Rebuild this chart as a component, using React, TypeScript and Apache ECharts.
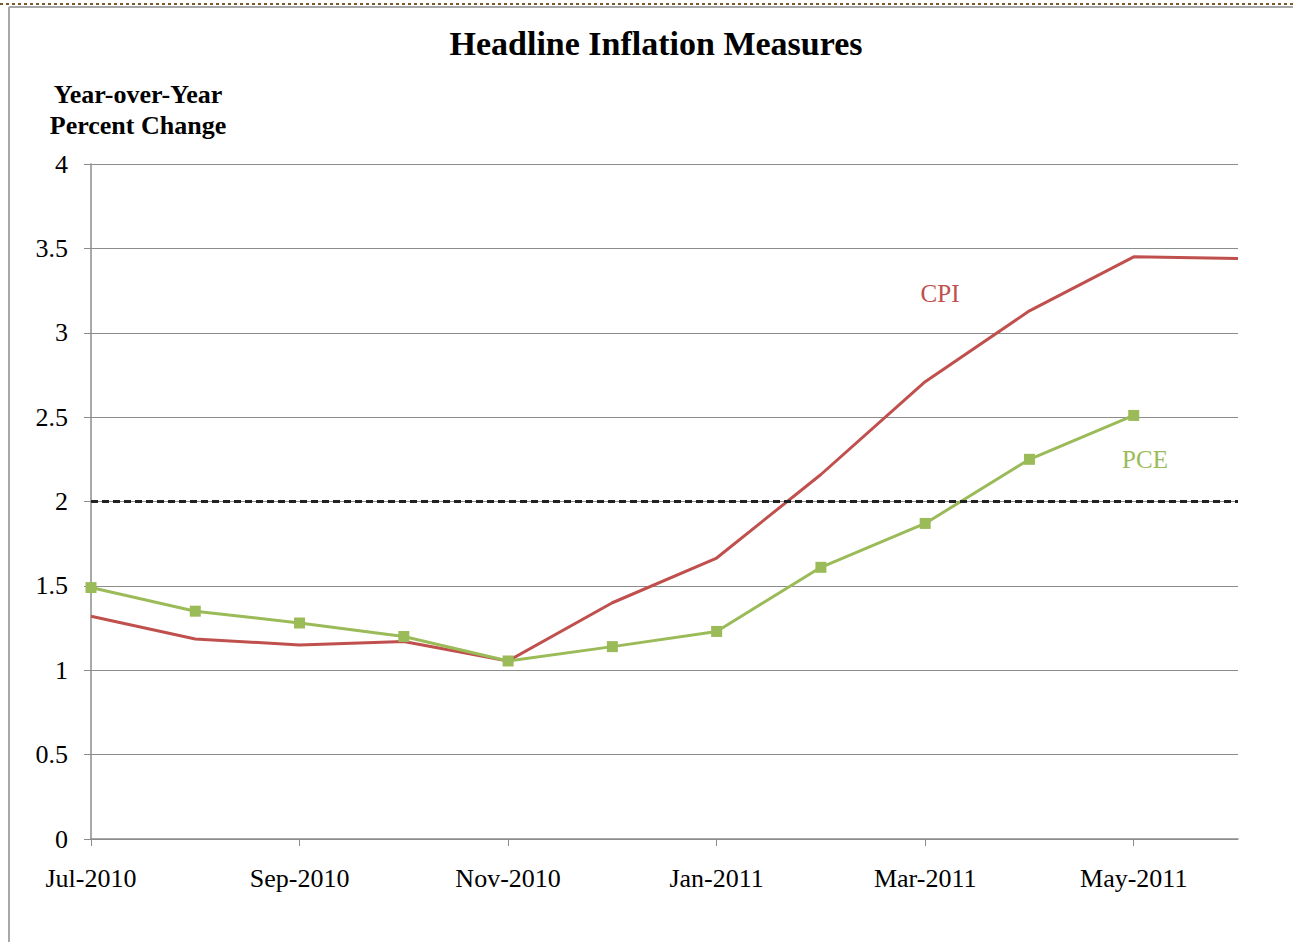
import React, { useEffect, useRef } from "react";
import * as echarts from "echarts";

const months = [
  "Jul-2010", "Aug-2010", "Sep-2010", "Oct-2010", "Nov-2010", "Dec-2010",
  "Jan-2011", "Feb-2011", "Mar-2011", "Apr-2011", "May-2011", "Jun-2011",
];
const cpi = [1.32, 1.185, 1.15, 1.17, 1.055, 1.4, 1.665, 2.16, 2.71, 3.13, 3.45, 3.44];
const pce = [1.49, 1.35, 1.28, 1.2, 1.055, 1.14, 1.23, 1.61, 1.87, 2.25, 2.51, null];
const targetLevel = 2;
const yTicks = { min: 0, max: 4, interval: 0.5 };

const FONT = "'Liberation Serif', 'Times New Roman', serif";

export default function App() {
  const ref = useRef<HTMLDivElement>(null);
  useEffect(() => {
    if (!ref.current) return;
    const chart = echarts.init(ref.current, null, { renderer: "svg" });
    chart.setOption({
      animation: false,
      backgroundColor: "#ffffff",
      textStyle: { fontFamily: FONT },
      title: [
        {
          text: "Headline Inflation Measures",
          left: 651,
          top: 21,
          textAlign: "center",
          textStyle: { fontFamily: FONT, fontSize: 34, fontWeight: "bold", color: "#000" },
        },
        {
          text: "Year-over-Year\nPercent Change",
          left: 133,
          top: 74,
          textAlign: "center",
          textStyle: { fontFamily: FONT, fontSize: 26, fontWeight: "bold", color: "#000", lineHeight: 31 },
        },
      ],
      grid: { left: 91, right: 55, top: 164, bottom: 103, containLabel: false },
      xAxis: {
        type: "category",
        data: months,
        boundaryGap: false,
        axisLine: { lineStyle: { color: "#8c8c8c", width: 1.5 } },
        axisTick: { show: true, interval: 1, length: 7, lineStyle: { color: "#8c8c8c" } },
        axisLabel: { interval: 1, margin: 26, fontFamily: FONT, fontSize: 26, color: "#000" },
        splitLine: { show: false },
      },
      yAxis: {
        type: "value",
        min: yTicks.min,
        max: yTicks.max,
        interval: yTicks.interval,
        axisLine: { show: true, lineStyle: { color: "#8c8c8c", width: 1.5 } },
        axisTick: { show: true, length: 7, lineStyle: { color: "#8c8c8c" } },
        axisLabel: { margin: 23, fontFamily: FONT, fontSize: 26, color: "#000" },
        splitLine: { show: true, lineStyle: { color: "#8c8c8c", width: 1 } },
      },
      series: [
        {
          name: "CPI",
          type: "line",
          data: cpi,
          symbol: "none",
          lineStyle: { color: "#C0504D", width: 3 },
          itemStyle: { color: "#C0504D" },
          z: 3,
          markLine: {
            silent: true,
            symbol: "none",
            label: { show: false },
            lineStyle: { color: "#222", width: 3, type: [7, 4] },
            data: [{ yAxis: targetLevel }],
          },
        },
        {
          name: "PCE",
          type: "line",
          data: pce,
          symbol: "rect",
          symbolSize: 11,
          showSymbol: true,
          lineStyle: { color: "#9BBB59", width: 3 },
          itemStyle: { color: "#9BBB59" },
          z: 4,
        },
      ],
      graphic: [
        {
          type: "line",
          shape: { x1: 0, y1: 4, x2: 1293, y2: 4 },
          style: { stroke: "#7a5a2a", lineWidth: 2, lineDash: [3, 3] },
        },
        {
          type: "line",
          shape: { x1: 9, y1: 7, x2: 1293, y2: 7 },
          style: { stroke: "#a8a8a8", lineWidth: 2 },
        },
        {
          type: "line",
          shape: { x1: 9, y1: 7, x2: 9, y2: 942 },
          style: { stroke: "#a8a8a8", lineWidth: 2 },
        },
        {
          type: "text",
          x: 940,
          y: 293,
          style: {
            text: "CPI",
            fill: "#C0504D",
            font: "25px 'Liberation Serif', serif",
            textAlign: "center",
            textVerticalAlign: "middle",
          },
        },
        {
          type: "text",
          x: 1145,
          y: 459,
          style: {
            text: "PCE",
            fill: "#9BBB59",
            font: "25px 'Liberation Serif', serif",
            textAlign: "center",
            textVerticalAlign: "middle",
          },
        },
      ],
    });
    return () => chart.dispose();
  }, []);
  return (
    <div
      ref={ref}
      style={{ position: "absolute", left: 0, top: 0, width: 1293, height: 942 }}
    />
  );
}
